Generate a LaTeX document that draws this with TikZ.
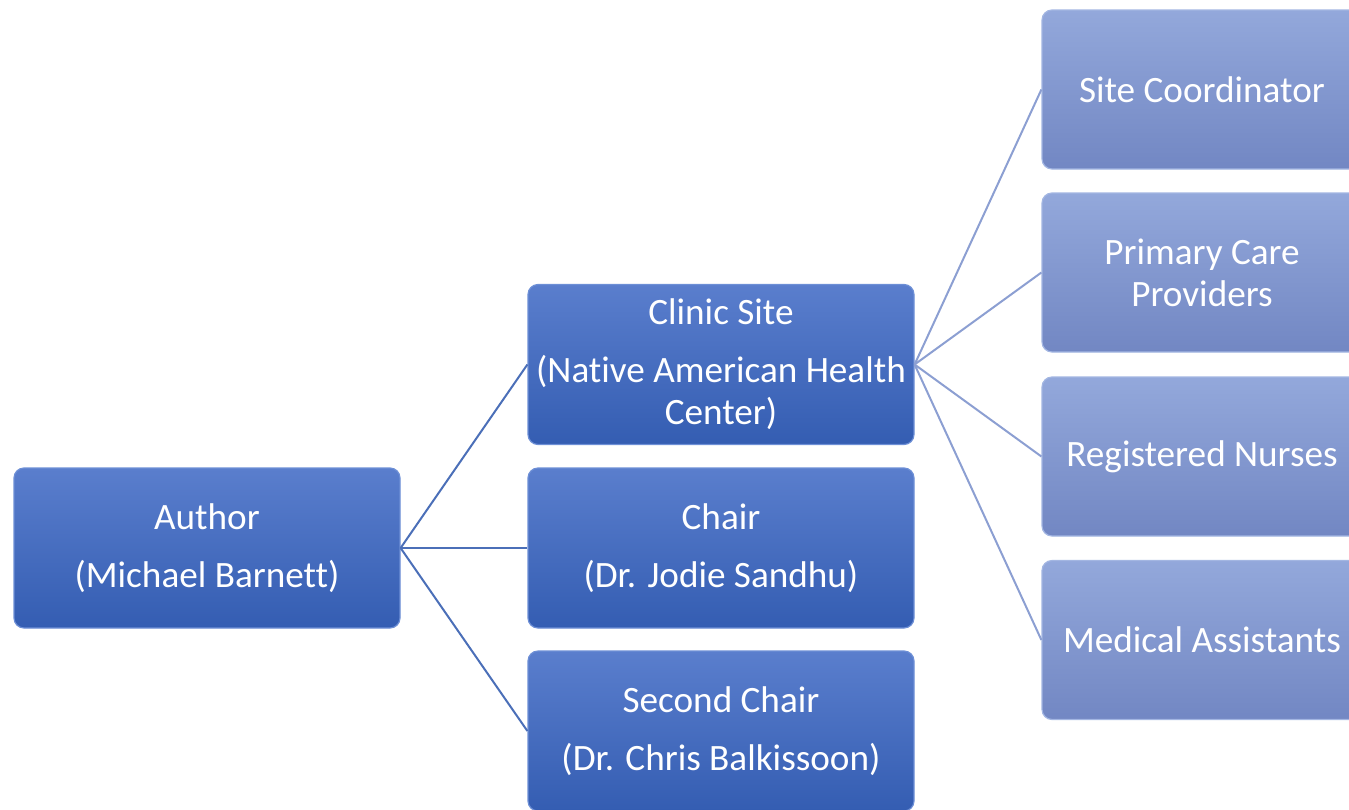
\documentclass[tikz,border=0pt]{standalone}
\usepackage{fontspec}
\setmainfont{Carlito}[Ligatures=NoCommon]
\usepackage{xcolor}
\usetikzlibrary{positioning, calc}
\definecolor{boxtop}{HTML}{5a7ecd}
\definecolor{boxbot}{HTML}{345db2}
\definecolor{boxline}{HTML}{6d8fd6}
\definecolor{subtop}{HTML}{93a8db}
\definecolor{subbot}{HTML}{7287c3}
\definecolor{subline}{HTML}{a3b6e2}
\definecolor{linkdark}{HTML}{4b6fb8}
\definecolor{linklight}{HTML}{8c9fd2}

\begin{document}
\begin{tikzpicture}[x=0.5pt, y=-0.5pt,
 font=\fontsize{18.6}{21}\selectfont,
 box/.style={draw=boxline, line width=0.6pt, top color=boxtop, bottom color=boxbot,
   rounded corners=5pt, text=white, align=center, inner sep=0pt,
   minimum width=193pt, minimum height=80pt},
 sub/.style={box, draw=subline, top color=subtop, bottom color=subbot,
   minimum width=160pt, minimum height=79.5pt},
 link/.style={line width=1pt, linkdark},
 sublink/.style={line width=1pt, linklight}]
\useasboundingbox (0,0) rectangle (1349,809);

% left and middle column
\node[box] (author) at (207,548) {Author\\[8pt](Michael Barnett)};
\node[box] (clinic) at (721,364.5) {Clinic Site\\[8pt](Native American Health\\Center)};
\node[box] (chair) at (721,548) {Chair\\[8pt](Dr. Jodie Sandhu)};
\node[box] (second) at (721,731) {Second Chair\\[8pt](Dr. Chris Balkissoon)};

% staff at the clinic
\node[sub] (coord) at (1202,89.5) {Site Coordinator};
\node[sub] (pcp) at (1202,272.5) {Primary Care\\Providers};
\node[sub] (rn) at (1202,456.5) {Registered Nurses};
\node[sub] (ma) at (1202,640) {Medical Assistants};

\draw[link] (author.east) -- (clinic.west);
\draw[link] (author.east) -- (chair.west);
\draw[link] (author.east) -- (second.west);

\draw[sublink] (clinic.east) -- (coord.west);
\draw[sublink] (clinic.east) -- (pcp.west);
\draw[sublink] (clinic.east) -- (rn.west);
\draw[sublink] (clinic.east) -- (ma.west);

\end{tikzpicture}
\end{document}
